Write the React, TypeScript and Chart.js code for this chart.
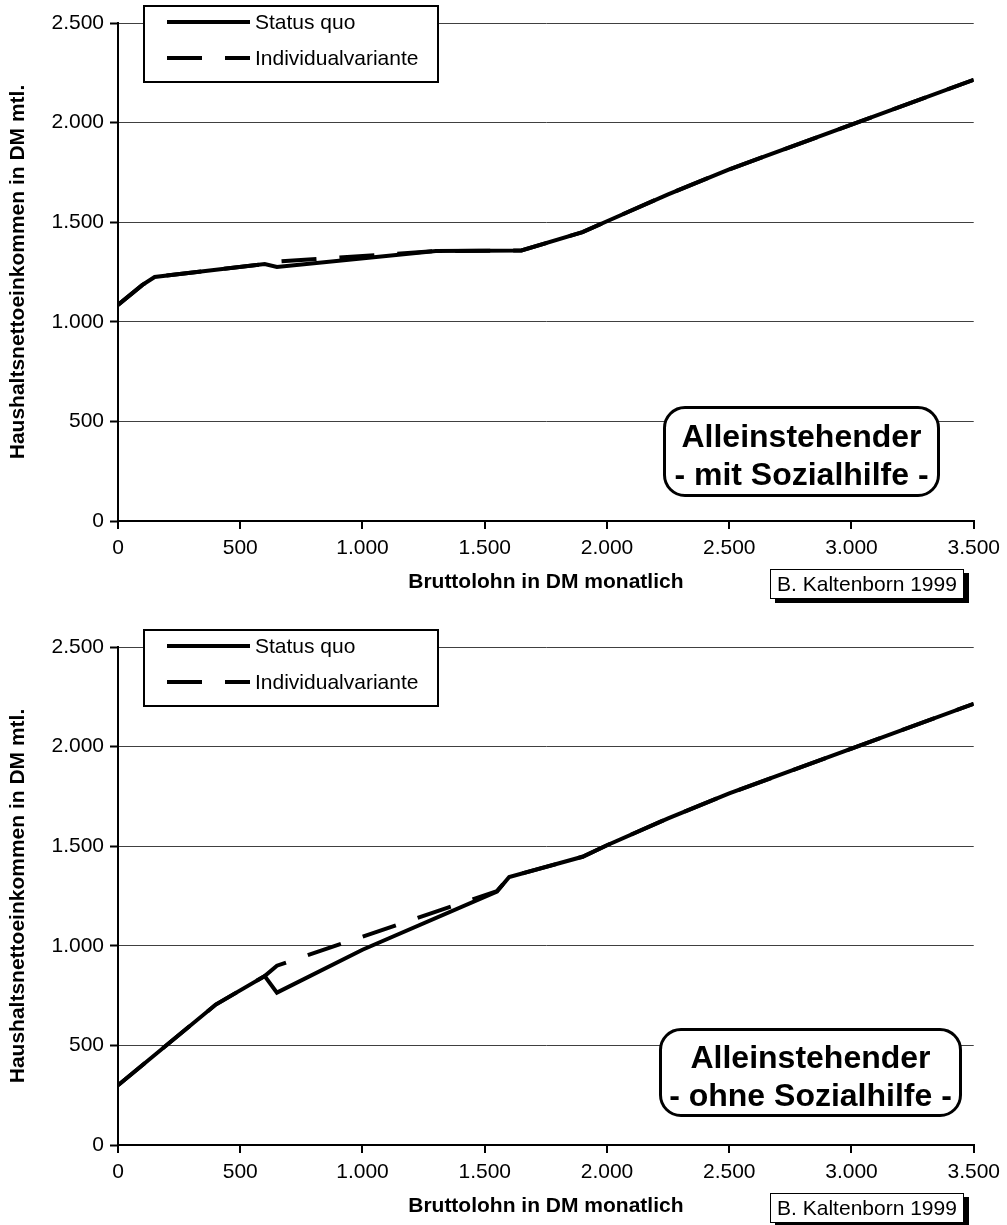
import React, { useEffect, useRef } from 'react';
import { Chart, registerables } from 'chart.js';

Chart.register(...registerables);

// ---------- data ----------
const seriesNames = ['Status quo', 'Individualvariante'];
const xAxisTitle = 'Bruttolohn in DM monatlich';
const yAxisTitle = 'Haushaltsnettoeinkommen in DM mtl.';
const sourceLabel = 'B. Kaltenborn 1999';
const xTickStep = 500;
const xMax = 3500;
const yTickStep = 500;
const yMax = 2500;

// Chart 1: Alleinstehender mit Sozialhilfe
const topLabel = ['Alleinstehender', '- mit Sozialhilfe -'];
const topBrutto = [0, 100, 150, 600, 650, 1300, 1650, 1900, 2000, 2250, 2500, 3000, 3500];
const topStatusQuo = [1085, 1185, 1225, 1290, 1275, 1355, 1358, 1450, 1505, 1640, 1765, 1990, 2215];
const topIndividual = [1085, 1185, 1225, 1290, 1302, 1355, 1358, 1450, 1505, 1640, 1765, 1990, 2215];

// Chart 2: Alleinstehender ohne Sozialhilfe
const bottomLabel = ['Alleinstehender', '- ohne Sozialhilfe -'];
const bottomBrutto = [0, 400, 600, 650, 1000, 1550, 1600, 1900, 2000, 2250, 2500, 3000, 3500];
const bottomStatusQuo = [300, 705, 848, 765, 980, 1272, 1345, 1447, 1505, 1640, 1765, 1990, 2215];
const bottomIndividual = [300, 705, 848, 900, 1046, 1275, 1345, 1447, 1505, 1640, 1765, 1990, 2215];

// ---------- helpers ----------
const FONT = "'Liberation Sans', Arial, Helvetica, sans-serif";

function fmt(v: number): string {
  const s = Math.round(v).toString();
  return s.replace(/\B(?=(\d{3})+(?!\d))/g, '.');
}

const legendPlugin = {
  id: 'boxLegend',
  afterDraw(chart: any) {
    const { ctx, chartArea } = chart;
    const left = chartArea.left + 26;
    const top = chartArea.top - 17;
    const w = 294;
    const h = 76;
    ctx.save();
    ctx.fillStyle = '#fff';
    ctx.fillRect(left, top, w, h);
    ctx.lineWidth = 2;
    ctx.strokeStyle = '#000';
    ctx.strokeRect(left, top, w, h);
    ctx.font = `21px ${FONT}`;
    ctx.textBaseline = 'middle';
    ctx.textAlign = 'left';
    ctx.fillStyle = '#000';
    chart.data.datasets.forEach((ds: any, i: number) => {
      const y = top + 16 + i * 36;
      ctx.beginPath();
      ctx.lineWidth = 4;
      ctx.lineCap = 'butt';
      ctx.setLineDash(ds.borderDash || []);
      ctx.moveTo(left + 23, y);
      ctx.lineTo(left + 106, y);
      ctx.stroke();
      ctx.setLineDash([]);
      ctx.fillText(ds.label, left + 111, y + 1);
    });
    ctx.restore();
  },
};

type Props = {
  top: number;
  xs: number[];
  sq: number[];
  iv: number[];
  label: string[];
  box: { left: number; top: number; width: number; height: number };
};

function IncomeChart({ top, xs, sq, iv, label, box }: Props) {
  const ref = useRef<HTMLCanvasElement | null>(null);

  useEffect(() => {
    if (!ref.current) return;
    const tickFont = { family: FONT, size: 21 };
    const titleFont = { family: FONT, size: 21, weight: 'bold' as const };
    const chart = new Chart(ref.current, {
      type: 'line',
      data: {
        datasets: [
          {
            label: seriesNames[0],
            data: xs.map((x, i) => ({ x, y: sq[i] })),
            borderColor: '#000',
            borderWidth: 4,
            pointRadius: 0,
            tension: 0,
            fill: false,
            borderJoinStyle: 'miter',
          },
          {
            label: seriesNames[1],
            data: xs.map((x, i) => ({ x, y: iv[i] })),
            borderColor: '#000',
            borderWidth: 4,
            borderDash: [35, 23],
            borderCapStyle: 'butt',
            pointRadius: 0,
            tension: 0,
            fill: false,
          },
        ],
      },
      options: {
        responsive: false,
        animation: false,
        layout: { padding: { top: 23, right: 29, left: 0, bottom: 0 } },
        plugins: { legend: { display: false }, tooltip: { enabled: false } },
        scales: {
          x: {
            type: 'linear',
            min: 0,
            max: xMax,
            ticks: {
              stepSize: xTickStep,
              color: '#000',
              font: tickFont,
              padding: 7,
              maxRotation: 0,
              autoSkip: false,
              callback: (v: any) => fmt(Number(v)),
            },
            grid: {
              drawOnChartArea: false,
              drawTicks: true,
              tickLength: 8,
              color: '#000',
              lineWidth: 2,
            },
            border: { display: true, color: '#000', width: 2 },
            title: {
              display: true,
              text: xAxisTitle,
              color: '#000',
              font: titleFont,
              padding: { top: 0, bottom: 6 },
            },
            afterFit: (s: any) => {
              s.height = 80;
            },
          },
          y: {
            type: 'linear',
            min: 0,
            max: yMax,
            ticks: {
              stepSize: yTickStep,
              color: '#000',
              font: tickFont,
              padding: 6,
              callback: (v: any) => fmt(Number(v)),
            },
            grid: {
              color: '#404040',
              lineWidth: 1,
              tickLength: 8,
              tickColor: '#000',
              tickWidth: 2,
            },
            border: { display: true, color: '#000', width: 2 },
            title: {
              display: true,
              text: yAxisTitle,
              color: '#000',
              font: titleFont,
              padding: { top: 6, bottom: 0 },
            },
            afterFit: (s: any) => {
              s.width = 118;
            },
          },
        },
      } as any,
      plugins: [legendPlugin],
    });
    return () => chart.destroy();
  }, [xs, sq, iv]);

  return (
    <div style={{ position: 'absolute', left: 0, top, width: 1007, height: 601 }}>
      <canvas ref={ref} width={1007} height={601} style={{ display: 'block' }} />
      <div
        style={{
          position: 'absolute',
          left: box.left,
          top: box.top,
          width: box.width,
          height: box.height,
          boxSizing: 'border-box',
          border: '3px solid #000',
          borderRadius: 22,
          background: '#fff',
          display: 'flex',
          flexDirection: 'column',
          alignItems: 'center',
          justifyContent: 'center',
          fontFamily: FONT,
          fontWeight: 'bold',
          fontSize: 32,
          lineHeight: '38px',
          color: '#000',
          whiteSpace: 'nowrap',
        }}
      >
        <div style={{ marginTop: 6 }}>{label[0]}</div>
        <div>{label[1]}</div>
      </div>
      <div
        style={{
          position: 'absolute',
          left: 770,
          top: 569,
          width: 194,
          height: 30,
          boxSizing: 'border-box',
          border: '1.5px solid #000',
          boxShadow: '5px 4px 0 0 #000',
          background: '#fff',
          display: 'flex',
          alignItems: 'center',
          justifyContent: 'center',
          fontFamily: FONT,
          fontSize: 21,
          color: '#000',
          whiteSpace: 'nowrap',
        }}
      >
        {sourceLabel}
      </div>
    </div>
  );
}

export default function App() {
  return (
    <div
      style={{
        position: 'absolute',
        left: 0,
        top: 0,
        width: 1007,
        height: 1225,
        overflow: 'hidden',
        background: '#fff',
      }}
    >
      <IncomeChart
        top={0}
        xs={topBrutto}
        sq={topStatusQuo}
        iv={topIndividual}
        label={topLabel}
        box={{ left: 663, top: 406, width: 277, height: 91 }}
      />
      <IncomeChart
        top={624}
        xs={bottomBrutto}
        sq={bottomStatusQuo}
        iv={bottomIndividual}
        label={bottomLabel}
        box={{ left: 659, top: 404, width: 303, height: 89 }}
      />
    </div>
  );
}
